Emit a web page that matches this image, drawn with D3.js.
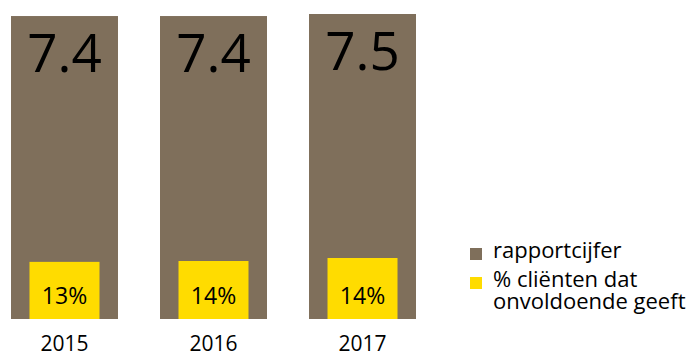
<!DOCTYPE html>
<html>
  <body style="margin:0;background:#fff;">
    <style>
      svg text {
        font-family: "Open Sans", sans-serif;
        fill: #000;
      }
    </style>
    <script src="https://d3js.org/d3.v7.min.js"></script>
    <script type="text/javascript">

      const width = 696;
      const height = 354;

      const years = ['2015', '2016', '2017'];
      const rapportcijfer = [7.44, 7.44, 7.49];
      const onvoldoende = [13.3, 13.5, 14.2]; // % cliënten dat onvoldoende geeft
      const legendLabels = [['rapportcijfer'], ['% cliënten dat', 'onvoldoende geeft']];

      const colorArray = ['#7F6F5B', '#FFDC00'];

      const baseY = 319;

      const svg = d3.select('body')
        .append('svg')
        .attr('width', width)
        .attr('height', height);

      const xScale = d3.scaleBand()
        .domain(years)
        .range([11, 416])
        .paddingInner(0.282)
        .paddingOuter(0);

      const yScale = d3.scaleLinear()
        .domain([0, 7.49])
        .range([baseY, 14]);

      const yPct = d3.scaleLinear()
        .domain([0, 14.2])
        .range([baseY, 258]);

      const innerWidth = 70;

      // brown bars
      svg.selectAll('.bar')
        .data(rapportcijfer)
        .enter()
        .append('rect')
        .attr('class', 'bar')
        .attr('x', (d, i) => xScale(years[i]))
        .attr('y', (d) => yScale(d))
        .attr('width', xScale.bandwidth())
        .attr('height', (d) => baseY - yScale(d))
        .attr('fill', colorArray[0]);

      svg.selectAll('.bar-label')
        .data(rapportcijfer)
        .enter()
        .append('text')
        .attr('class', 'bar-label')
        .attr('x', (d, i) => xScale(years[i]) + xScale.bandwidth() / 2)
        .attr('y', (d) => yScale(d) + 56)
        .attr('text-anchor', 'middle')
        .style('font-size', '53px')
        .text((d) => d3.format('.1f')(d));

      // yellow bars
      svg.selectAll('.pct')
        .data(onvoldoende)
        .enter()
        .append('rect')
        .attr('class', 'pct')
        .attr('x', (d, i) => xScale(years[i]) + (xScale.bandwidth() - innerWidth) / 2)
        .attr('y', (d) => yPct(d))
        .attr('width', innerWidth)
        .attr('height', (d) => baseY - yPct(d))
        .attr('fill', colorArray[1]);

      svg.selectAll('.pct-label')
        .data(onvoldoende)
        .enter()
        .append('text')
        .attr('class', 'pct-label')
        .attr('x', (d, i) => xScale(years[i]) + xScale.bandwidth() / 2)
        .attr('y', baseY - 15)
        .attr('text-anchor', 'middle')
        .style('font-size', '23px')
        .text((d) => d3.format('.0f')(d) + '%');

      // year axis
      const axisBottom = d3.axisBottom(xScale).tickSize(0).tickPadding(0);
      const axis = svg.append('g')
        .attr('transform', `translate(0, ${baseY})`)
        .call(axisBottom);
      axis.select('.domain').remove();
      axis.selectAll('text')
        .attr('dy', null)
        .attr('y', 32)
        .style('font-family', '"Open Sans", sans-serif')
        .style('font-size', '21px');

      // legend
      const legend = svg.append('g')
        .selectAll('.legend')
        .data(legendLabels)
        .enter()
        .append('g')
        .attr('class', 'legend')
        .attr('transform', (d, i) => `translate(470, ${248 + i * 29})`);

      legend.append('rect')
        .attr('width', 12)
        .attr('height', 12)
        .attr('fill', (d, i) => colorArray[i]);

      legend.append('text')
        .attr('x', 23)
        .attr('y', 10)
        .style('font-size', '22px')
        .selectAll('tspan')
        .data((d) => d)
        .enter()
        .append('tspan')
        .attr('x', 23)
        .attr('dy', (d, i) => (i === 0 ? 0 : 22))
        .text((d) => d);

    </script>
  </body>
</html>
